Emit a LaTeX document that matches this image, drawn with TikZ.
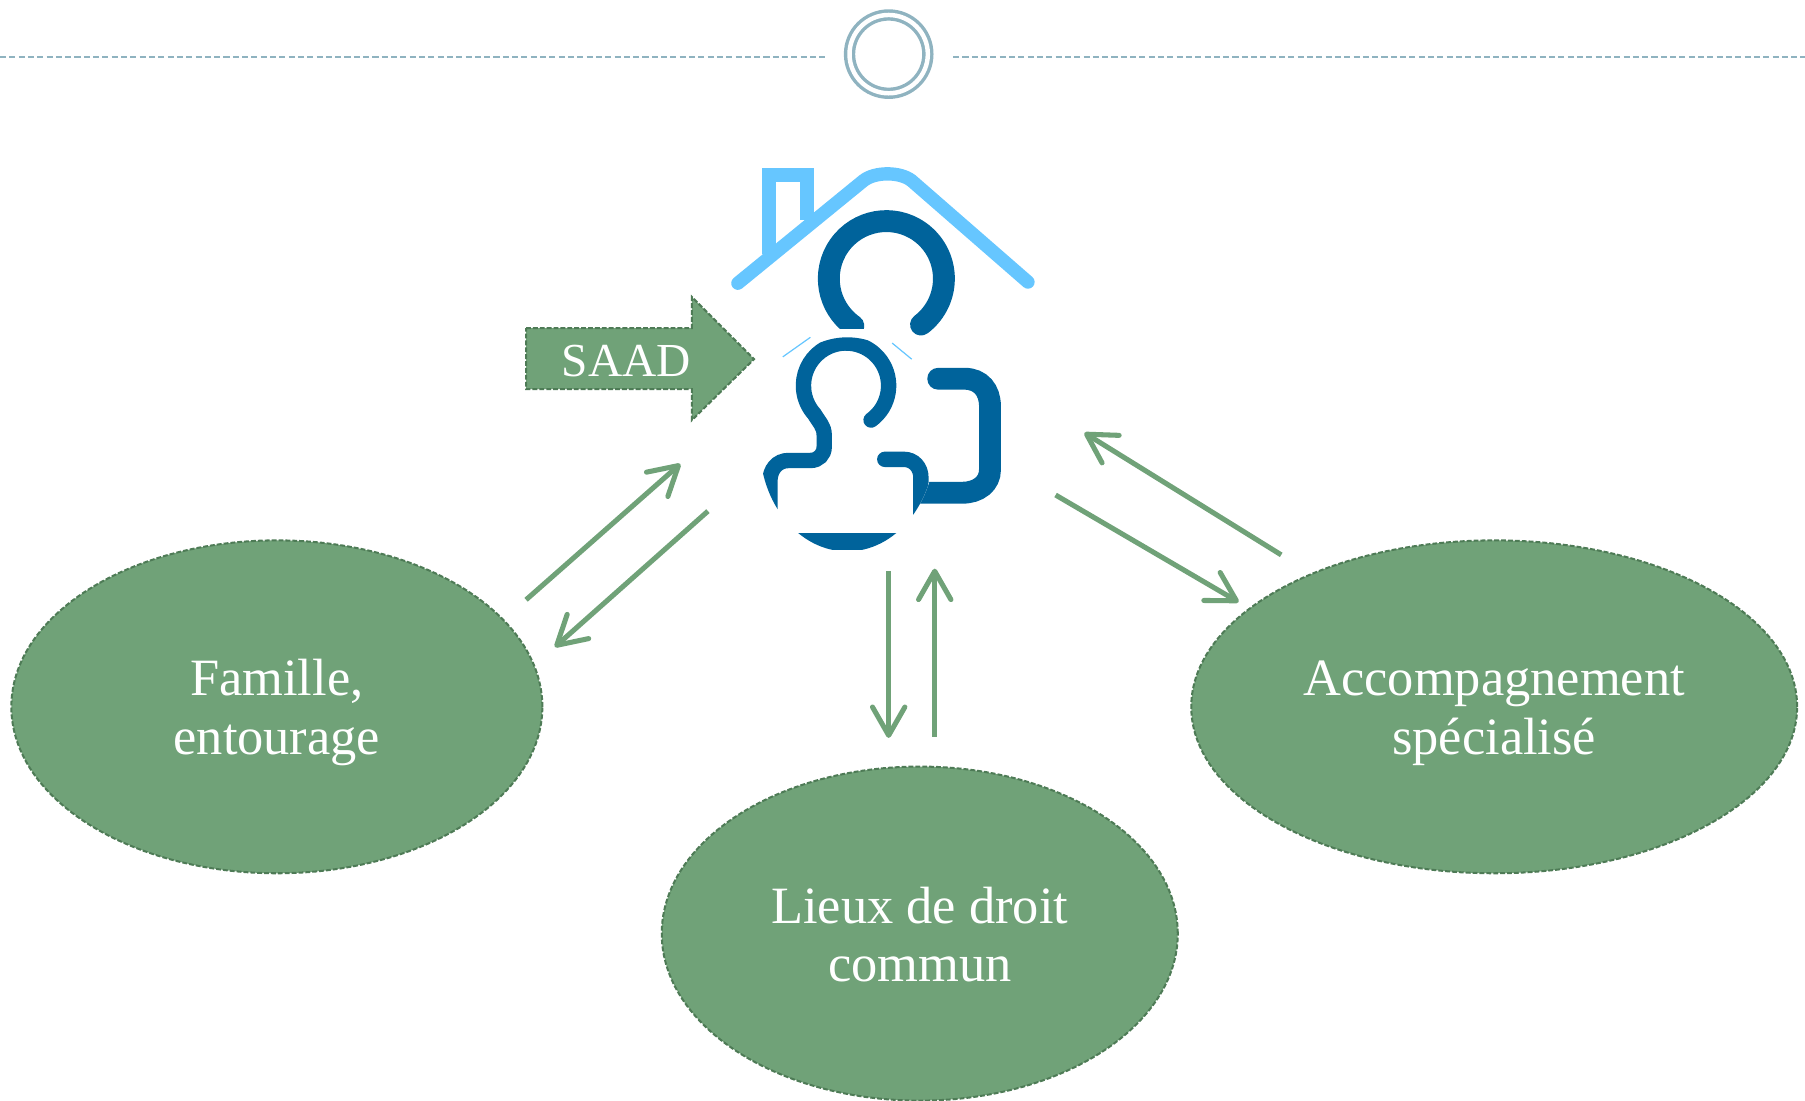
\documentclass[tikz,border=0pt]{standalone}
\usepackage{fontspec}
\setmainfont{Liberation Serif}
\usetikzlibrary{arrows.meta,shapes.geometric}

\definecolor{leaf}{HTML}{70A278}
\definecolor{leafdark}{HTML}{4E7B56}
\definecolor{slate}{HTML}{8FB3C0}
\definecolor{roofblue}{HTML}{66C6FF}
\definecolor{inkblue}{HTML}{00639B}

\tikzset{
  place/.style={shape=ellipse,draw=leafdark,fill=leaf,inner sep=0pt,
    line width=.5pt,dash pattern=on 1.2pt off .5pt},
  placetext/.style={text=white,align=center,inner sep=0pt,font=\fontsize{12.95}{14.4}\selectfont},
  flow/.style={draw=leaf,line width=1.25pt,-{Straight Barb[length=7pt,width=8pt,round]}},
  ruleline/.style={draw=slate,line width=.55pt,dash pattern=on 1.5pt off .8pt},
  roofline/.style={draw=roofblue,line width=3.3pt},
  bigline/.style={draw=inkblue,line width=5.4pt},
  smallline/.style={draw=inkblue,line width=3.8pt}
}

\begin{document}
\begin{tikzpicture}[x=.01cm,y=-.01cm]
  \useasboundingbox (0,0) rectangle (1568,956);
  % top rule and ring
  \node[shape=circle,draw=slate,line width=.85pt,double,double distance=1.1pt,minimum size=.68cm,inner sep=0pt](ring)at(772,47){};
  \coordinate(ruleA)at(0,49.5);
  \coordinate(ruleB)at(717,49.5);
  \coordinate(ruleC)at(828,49.5);
  \coordinate(ruleD)at(1568,49.5);
  \path[ruleline](ruleA) -- (ruleB);
  \path[ruleline](ruleC) -- (ruleD);
  % house
  \draw[roofline,line cap=round](641,246) -- (750,157) .. controls (760,149) and (782,149) .. (792,157) -- (893,245);
  \draw[roofline,line cap=butt](668,221) -- (668,152) -- (701,152) -- (701,191);
  % big person
  \draw[bigline,line cap=round](741.3,283) arc[start angle=125,end angle=413,radius=50];
  \fill[white](722,285.5) rectangle (762,300);
  \draw[bigline,line cap=round](815,329) -- (838,329) .. controls (852,329) and (860,339) .. (860,353)
    -- (860,408) .. controls (860,420) and (850,428) .. (836,428) -- (790,428);
  \fill[white](736,386) ellipse [x radius=76,y radius=93];
  \draw[roofblue,line width=.3pt](680,310) -- (704,293);
  \draw[roofblue,line width=.3pt](775,298) -- (792,312);
  % small person, cut by the ellipse
  \begin{scope}
    \clip(736,386) ellipse [x radius=76,y radius=93];
    \draw[smallline,line cap=round](756.7,364.9) arc[start angle=54,end angle=-222,radius=37]
      .. controls (711,366) and (716,370) .. (716,378) -- (716,388) .. controls (716,395) and (711,400) .. (704,400)
      -- (685,400) .. controls (675,400) and (668.8,408) .. (668.8,418) -- (668.8,480);
    \draw[smallline,line cap=round](768.6,399) -- (785,399) .. controls (794,399) and (800,406) .. (800,415) -- (800,480);
    \fill[inkblue](650,463) rectangle (820,478);
  \end{scope}
  % SAAD arrow
  \draw[draw=leafdark,fill=leaf,line width=.5pt,dash pattern=on 1.2pt off .5pt](457,285) -- (601,285) -- (601,258)
    -- (655,312) -- (601,365) -- (601,338) -- (457,338) -- cycle;
  \node[placetext,font=\fontsize{11.7}{14.4}\selectfont](saad)at(544,314){SAAD};
  % the three places
  \node[place,minimum width=4.61cm,minimum height=2.89cm](famille)at(240.5,614){};
  \node[place,minimum width=4.48cm,minimum height=2.90cm](lieux)at(799,811){};
  \node[place,minimum width=5.26cm,minimum height=2.89cm](accomp)at(1298,614){};
  \node[placetext](familleText)at(240.5,619){Famille,\\entourage};
  \node[placetext](lieuxText)at(799,812){Lieux de droit\\commun};
  \node[placetext](accompText)at(1298,619.5){Accompagnement\\spécialisé};
  % ends of the arrows
  \coordinate(famOut)at(457,521);
  \coordinate(famIn)at(482,562);
  \coordinate(hubA)at(591,403);
  \coordinate(hubB)at(615,444);
  \coordinate(hubC)at(772,496);
  \coordinate(hubD)at(812,494);
  \coordinate(lieuxIn)at(772,641);
  \coordinate(lieuxOut)at(812,640);
  \coordinate(hubE)at(917,430);
  \coordinate(hubF)at(942,376);
  \coordinate(accIn)at(1076,523);
  \coordinate(accOut)at(1113,482);
  \path[](famOut) edge[flow] (hubA)
  (hubB) edge[flow] (famIn)
  (hubC) edge[flow] (lieuxIn)
  (lieuxOut) edge[flow] (hubD)
  (hubE) edge[flow] (accIn)
  (accOut) edge[flow] (hubF);
\end{tikzpicture}
\end{document}
